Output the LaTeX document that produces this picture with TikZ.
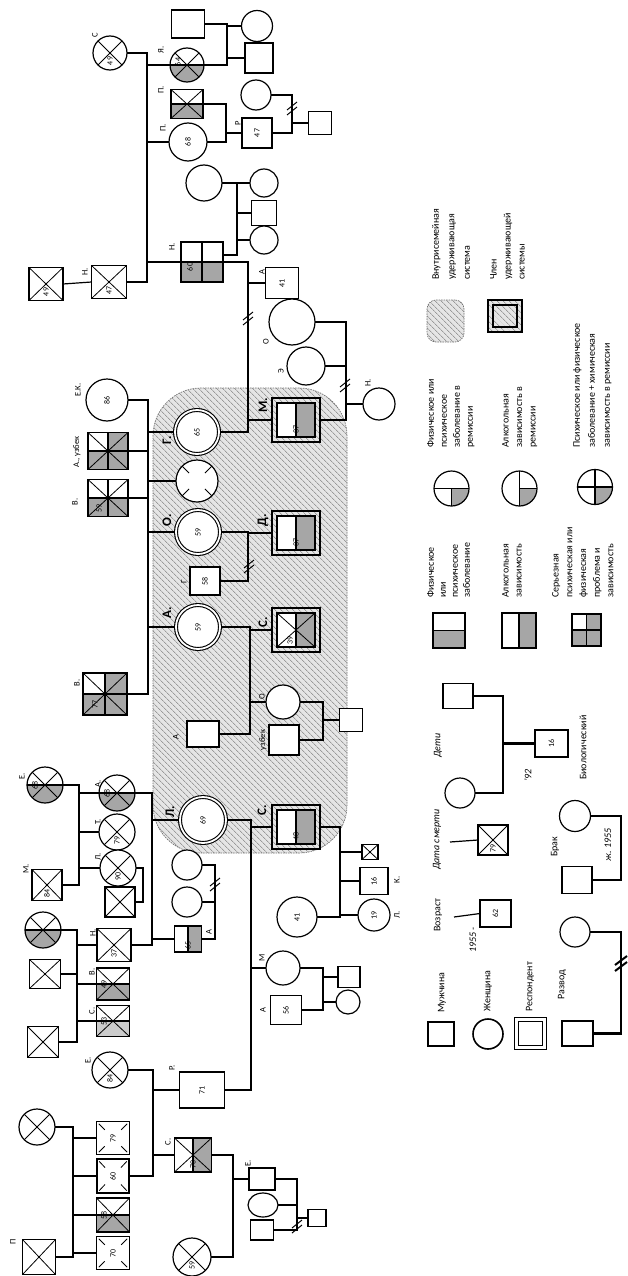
\documentclass[tikz,border=0pt]{standalone}
\usepackage{fontspec}
\setmainfont{Carlito}
\usetikzlibrary{calc,patterns.meta,shapes.geometric}
\pgfdeclarelayer{encl}
\pgfdeclarelayer{lines}
\pgfsetlayers{encl,lines,main}
\definecolor{gry}{gray}{0.65}
\definecolor{gryl}{gray}{0.80}
\definecolor{hbg}{gray}{0.90}
\definecolor{hln}{gray}{0.45}
\newcommand\Xc{\draw[xl] (path picture bounding box.south west) -- (path picture bounding box.north east) (path picture bounding box.north west) -- (path picture bounding box.south east);}
\newcommand\Hl{\draw[dl] (path picture bounding box.west) -- (path picture bounding box.east);}
\newcommand\Vl{\draw[dl] (path picture bounding box.north) -- (path picture bounding box.south);}
\newcommand\Bg{\fill[gry] (path picture bounding box.west) rectangle (path picture bounding box.south east);\Hl}
\newcommand\Bgl{\fill[gryl] (path picture bounding box.west) rectangle (path picture bounding box.south east);\Hl}
\newcommand\Rg{\fill[gry] (path picture bounding box.north) rectangle (path picture bounding box.south east);\Vl}
\newcommand\TRg{\fill[gry] (path picture bounding box.north) rectangle (path picture bounding box.east);}
\newcommand\BRq{\fill[gry] (path picture bounding box.center) rectangle (path picture bounding box.south east);}
\newcommand\Tk[4]{\draw[xl] ($(path picture bounding box.#1)!#3!(path picture bounding box.#2)$) -- ($(path picture bounding box.#1)!#4!(path picture bounding box.#2)$);}
\newcommand\Dxs{\Tk{south west}{north east}{.07}{.25}\Tk{north east}{south west}{.07}{.25}\Tk{north west}{south east}{.07}{.25}\Tk{south east}{north west}{.07}{.25}}
\newcommand\Dxc{\Tk{south west}{north east}{.15}{.31}\Tk{north east}{south west}{.15}{.31}\Tk{north west}{south east}{.15}{.31}\Tk{south east}{north west}{.15}{.31}}
\newcommand\RIco{\coordinate (ia) at ([shift={(5pt,-5pt)}]path picture bounding box.north west);
 \coordinate (ib) at ([shift={(-5pt,5pt)}]path picture bounding box.south east);
 \coordinate (ic) at ($(ia)!.5!(ib)$);}
\newcommand\RIn{\RIco\fill[white] (ia) rectangle (ib);
 \fill[gry] (ic |- ia) rectangle (ib);
 \draw[dl] (ic |- ia) -- (ic |- ib);}
\newcommand\RInX{\draw[xl] (ia) -- (ib) (ia -| ib) -- (ia |- ib);}
\newcommand\RInB{\draw[line width=1.5pt] (ia) rectangle (ib);}
\tikzset{
 xl/.style={line width=0.8pt},
 dl/.style={line width=1.1pt},
 ln/.style={line width=1.2pt},
 thk/.style={line width=2.6pt},
 base/.style={draw, line width=1.2pt, fill=white, inner sep=0pt, outer sep=0pt},
 sq/.style 2 args={base, rectangle, minimum width=#1, minimum height=#2},
 ci/.style={base, circle, minimum size=#1},
 el/.style 2 args={base, ellipse, minimum width=#1, minimum height=#2},
 pp/.style={path picture={#1}},
 resp/.style={double=white, double distance=1.8pt, line width=1.1pt},
 hatch/.style={preaction={fill=hbg}, pattern={Lines[angle=-45,distance=4pt,line width=0.6pt]}, pattern color=hln},
 rsq/.style={rectangle, draw, line width=1.8pt, hatch, minimum width=48, minimum height=44, inner sep=0pt},
 num/.style={rotate=90, font=\fontsize{8}{9}\selectfont, inner sep=0pt},
 nm/.style={label={[num]center:#1}},
 nmo/.style n args={3}{label={[num,xshift=#2,yshift=#3]center:#1}},
 lbl/.style={rotate=90, font=\fontsize{8.5}{10}\selectfont, inner sep=0pt},
 blbl/.style={rotate=90, font=\fontsize{13}{14}\selectfont\bfseries, inner sep=0pt},
 legb/.style={rotate=90, anchor=north west, align=left, inner sep=0pt, font=\fontsize{10}{#1}\selectfont},
 legs/.style={rotate=90, anchor=west, inner sep=0pt, font=\fontsize{10}{12}\selectfont},
 divm/.pic={\draw[line width=1pt] (-5,2)--(5,-6) (-5,7)--(5,-1);},
 divmt/.pic={\draw[line width=2pt] (-6,2)--(6,-7) (-6,8)--(6,-1);},
}
\begin{document}
\begin{tikzpicture}[x=1pt,y=-1pt]
\useasboundingbox (0,0) rectangle (628,1276);
\begin{pgfonlayer}{encl}
\fill[white] (0,0) rectangle (628,1276);
\node[hatch, draw=black!55, dash pattern=on 1.5pt off 1pt, line width=0.7pt, rounded corners=48pt, minimum width=194, minimum height=465, inner sep=0pt] (encl) at (250,620.5) {};
\end{pgfonlayer}

% bus coordinates
\foreach \bx in {73,77,79,143,147,148,152,153,215,226,227,233,237,248,250,251,292,297,323,340,346,503,621}{\coordinate (b\bx) at (\bx,0);}

% ---------- top family
\node[ci=34, pp={\Xc}, nmo={49}{-8pt}{0pt}] (nC) at (110,53) {};
\node[lbl] (lC) at (95,35) {С};
\node[ci=34, pp={\Bg\Xc}, nmo={64}{3pt}{9pt}] (nYa) at (187,65) {};
\node[lbl] (lYa) at (161,50) {Я.};
\node[sq={33}{28}] (sqTop) at (188,24) {};
\node[ci=31] (cTop) at (257,26) {};
\node[sq={28}{30}] (sqTop2) at (259,58) {};
\node[sq={32}{29}, pp={\Bg\Xc}] (nPsq) at (187,104) {};
\node[lbl] (lPsq) at (161,90) {П.};
\node[ci=38, nm=68] (nPc) at (188,142) {};
\node[lbl] (lPc) at (163,128) {П.};
\node[sq={30}{30}, nm=47] (sq47) at (257,133) {};
\node[lbl] (l47) at (238,123) {Р};
\node[ci=30] (c95) at (256,95) {};
\node[sq={23}{23}] (sqS) at (320,123) {};
\node[ci=36] (cW) at (204,183) {};
\node[ci=28] (cK1) at (264,183) {};
\node[sq={25}{25}] (sqK2) at (264,213) {};
\node[ci=28] (cK3) at (264,240) {};
\node[sq={42}{40}, pp={\Bg\Vl}, nmo={60}{-5pt}{12pt}] (N60) at (202,262) {};
\node[lbl] (lN60) at (172,247) {Н.};
\node[sq={33}{31}, nm=41] (sq41) at (282,283) {};
\node[lbl] (l41) at (262,272) {А};
\node[sq={34}{33}, pp={\Xc}, nmo={49}{-8pt}{0pt}] (sqN49) at (46,284) {};
\node[sq={35}{33}, pp={\Xc}, nmo={47}{-8pt}{0pt}] (sqN40) at (109,282) {};
\node[lbl] (lN40) at (85,272) {Н.};
\node[ci=46] (cO) at (292,322) {};
\node[lbl] (lO) at (266,342) {О};
\node[ci=38] (cEh) at (306,366) {};
\node[lbl] (lEh) at (281,371) {Э};
\node[ci=32] (cN) at (379,404) {};
\node[lbl] (lN) at (368,383) {Н.};

% ---------- enclosure members
\node[ci=44, resp, nm=65] (G65) at (197,432) {};
\node[blbl] (lG) at (167,440) {Г.};
\node[ci=42, pp={\Dxc}] (cQ) at (197,481) {};
\node[ci=44, resp, nm=59] (O59) at (198,532) {};
\node[blbl] (lO59) at (167,520) {О.};
\node[sq={30}{28}, nm=58] (sq58) at (205,581) {};
\node[lbl] (l58) at (184,582) {Г};
\node[rsq, pp={\RIn\RInB}, nmo={37}{-9pt}{0pt}] (M37) at (296,420) {};
\node[blbl] (lM37) at (263,405) {М.};
\node[rsq, pp={\RIn\RInB}, nmo={37}{-9pt}{0pt}] (D37) at (296,533) {};
\node[blbl] (lD) at (263,520) {Д.};
\node[ci=44, resp, nm=59] (A59) at (198,627) {};
\node[blbl] (lA59) at (167,613) {А.};
\node[rsq, pp={\RIn\RInX\RInB}, nmo={39}{-10pt}{6pt}] (C30) at (296,630) {};
\node[blbl] (lC30) at (263,622) {С.};
\node[sq={32}{26}] (sqA) at (203,734) {};
\node[lbl] (lsqA) at (176,737) {А};
\node[ci=34] (cO2) at (283,702) {};
\node[lbl] (lO2) at (262,697) {О};
\node[sq={30}{30}] (sqUz) at (284,740) {};
\node[lbl] (lUz) at (263,740) {узбек};
\node[sq={23}{23}] (sqSm) at (351,720) {};

% ---------- parents of enclosure
\node[ci=42, nm=86] (cEK) at (107,400) {};
\node[lbl] (lEK) at (78,390) {Е.К.};
\node[sq={40}{37}, pp={\TRg\Bg\Vl\Xc}] (sqAuz) at (108,451) {};
\node[lbl] (lAuz) at (77,452) {А., узбек};
\node[sq={40}{37}, pp={\Bg\Vl\Xc}, nmo={59}{-10pt}{9pt}] (sqV50) at (108,498) {};
\node[lbl] (lV50) at (75,502) {В.};
\node[sq={44}{42}, pp={\TRg\Bg\Vl\Xc}, nmo={77}{-10pt}{10pt}] (sqV77) at (105,694) {};
\node[lbl] (lV77) at (77,683) {В.};

% ---------- Л. family
\node[ci=46, resp, nm=69] (L69) at (203,820) {};
\node[blbl] (lL) at (170,812) {Л.};
\node[rsq, pp={\RIn\RInB}, nmo={48}{-9pt}{0pt}] (C48) at (296,827) {};
\node[blbl] (lC48) at (262,810) {С.};
\node[ci=36, pp={\Bg\Xc}, nmo={68}{0pt}{10pt}] (cA68) at (117,793) {};
\node[lbl] (lA68) at (98,784) {А.};
\node[ci=36, pp={\Xc}, nmo={79}{-8pt}{0pt}] (cX2) at (117,832) {};
\node[lbl] (lX2) at (98,822) {Т.};
\node[ci=36, pp={\Xc}, nmo={90}{-8pt}{0pt}] (cX90) at (118,868) {};
\node[lbl] (lX90) at (98,857) {Л.};
\node[sq={30}{30}, pp={\Xc}] (sqX1) at (120,902) {};
\node[ci=36, pp={\Bg\Xc}, nmo={68}{0pt}{10pt}] (cE1) at (45,785) {};
\node[lbl] (lE1) at (22,776) {Е.};
\node[sq={30}{31}, pp={\Xc}, nmo={84}{-8pt}{0pt}] (sqM) at (47,885) {};
\node[lbl] (lM) at (26,869) {М.};
\node[ci=30] (cL1) at (187,865) {};
\node[ci=30] (cL2) at (187,902) {};
\node[sq={27}{26}, pp={\Rg}, nmo={65}{-6pt}{0pt}] (sq65) at (188,939) {};
\node[lbl] (l65) at (209,932) {А};
\node[sq={34}{33}, pp={\Xc}, nmo={37}{-8pt}{0pt}] (sq37) at (114,945) {};
\node[lbl] (l37) at (93,933) {Н.};
\node[ci=36, pp={\Bg\Xc}] (cBot) at (43,930) {};
\node[sq={31}{29}, pp={\Xc}] (sqB1) at (45,974) {};
\node[sq={33}{32}, pp={\Bg\Xc}, nmo={49}{0pt}{9pt}] (sqB2) at (113,984) {};
\node[lbl] (lB2) at (92,972) {В.};
\node[sq={33}{31}, pp={\Bgl\Xc}, nmo={53}{0pt}{9pt}] (sqB3) at (113,1021) {};
\node[lbl] (lB3) at (92,1011) {С.};
\node[sq={31}{31}, pp={\Xc}] (sqB4) at (43,1042) {};
\node[ci=40, nm=41] (c41) at (297,917) {};
\node[sq={16}{15}, pp={\Xc}] (sqTiny) at (370,852) {};
\node[sq={28}{27}, nm=16] (sq16) at (374,881) {};
\node[lbl] (l16) at (397,880) {К.};
\node[ci=32, nm=19] (c19) at (374,915) {};
\node[lbl] (l19) at (397,915) {Л.};
\node[ci=34] (cM) at (283,968) {};
\node[lbl] (lcM) at (262,958) {М};
\node[sq={31}{29}, nm=56] (sq56) at (286,1010) {};
\node[lbl] (l56) at (263,1010) {А};
\node[sq={22}{21}] (sqMc) at (349,977) {};
\node[ci=24] (cMc) at (348,1002) {};
\node[sq={45}{36}, nm=71] (sq71) at (202,1090) {};
\node[lbl] (l71) at (172,1068) {Р.};
\node[ci=36, pp={\Xc}, nmo={84}{-8pt}{0pt}] (cE84) at (110,1070) {};
\node[lbl] (lE84) at (88,1060) {Е.};
\node[sq={37}{34}, pp={\Rg\Xc}, nmo={70}{-9pt}{0pt}] (sq70r) at (193,1155) {};
\node[lbl] (l70r) at (168,1142) {С.};
\node[ci=38, pp={\Xc}, nmo={59}{-8pt}{0pt}] (c59) at (192,1257) {};
\node[sq={26}{22}] (sqE) at (262,1179) {};
\node[lbl] (lsqE) at (248,1163) {Е.};
\node[el={30}{24}] (cEc) at (263,1205) {};
\node[sq={23}{20}] (sqEc) at (262,1230) {};
\node[sq={18}{17}] (sqSm2) at (317,1218) {};
\node[ci=36, pp={\Xc}] (cTL) at (37,1127) {};
\node[sq={33}{35}, pp={\Xc}] (sqP) at (39,1257) {};
\node[lbl] (lP) at (13,1242) {П};
\node[sq={33}{33}, pp={\Dxs}, nm=79] (sq79) at (113,1138) {};
\node[sq={32}{34}, pp={\Dxs}, nm=60] (sq60) at (113,1176) {};
\node[sq={33}{34}, pp={\Bg\Xc}, nmo={58}{0pt}{9pt}] (sq3) at (113,1215) {};
\node[sq={33}{33}, pp={\Dxs}, nm=70] (sq70d) at (113,1253) {};

% ---------- legend
\node[hatch, draw=black!55, dash pattern=on 1.5pt off 1pt, line width=0.7pt, rounded corners=9pt, minimum width=37, minimum height=42, inner sep=0pt] (lgEncl) at (445.5,321) {};
\node[rectangle, draw, line width=1.8pt, hatch, minimum width=34, minimum height=32, inner sep=0pt, pp={\RIco\RInB}] (lgMem) at (505,316) {};
\node[legb=15.5] (tEncl) at (432,280) {Внутрисемейная\\удерживающая\\система};
\node[legb=14] (tMem) at (490,280) {Член\\удерживающей\\системы};
\node[ci=35, pp={\BRq\Hl\draw[dl] (path picture bounding box.center) -- (path picture bounding box.south);}] (lc1) at (451.5,488.5) {};
\node[ci=35, pp={\BRq\Vl\draw[dl] (path picture bounding box.center) -- (path picture bounding box.east);}] (lc2) at (519.5,488.5) {};
\node[ci=35, pp={\BRq\Hl\Vl}] (lc3) at (595,487) {};
\node[legb=13] (tL1) at (427,448) {Физическое или\\психическое\\заболевание в\\ремиссии};
\node[legb=13.5] (tL2) at (502,448) {Алкогольная\\зависимость в\\ремиссии};
\node[legb=15] (tL3) at (573,448) {Психическое или физическое\\заболевание + химическая\\зависимость в ремиссии};
\node[sq={32}{35}, pp={\Bg}] (ls1) at (449,630.5) {};
\node[sq={34}{35}, pp={\Rg}] (ls2) at (519,630.5) {};
\node[sq={29}{32}, pp={\TRg\Bg\Vl}] (ls3) at (586.5,630) {};
\node[legb=12] (tS1) at (427,598) {Физическое\\или\\психическое\\заболевание};
\node[legb=13] (tS2) at (502,598) {Алкогольная\\зависимость};
\node[legb=13.7] (tS3) at (552,598) {Серьезная\\психическая или\\физическая\\проблема и\\зависимость};

\node[sq={30}{25}] (sqD) at (458,696) {};
\node[ci=30] (cD) at (460,793) {};
\node[sq={33}{27}, nm=16] (sq16L) at (551.5,743.5) {};
\node[legs, font=\fontsize{10}{12}\selectfont\itshape] (tDeti) at (438,758) {Дети};
\node[legs, font=\fontsize{10}{12}\selectfont\itshape] (t92) at (528,782) {'92};
\node[legs] (tBio) at (583,780) {Биологический};
\node[sq={30}{30}, pp={\Xc}, nmo={79}{-8pt}{0pt}] (sqDeath) at (493,840) {};
\coordinate (dsL) at (450,842);
\node[legs, font=\fontsize{10}{12}\selectfont\itshape] (tDs) at (437,870) {Дата смерти};
\node[sq={31}{27}, nm=62] (sq62) at (495.5,913.5) {};
\coordinate (vzL) at (454,917);
\node[legs] (tVoz) at (438,932) {Возраст};
\node[legs, font=\fontsize{10}{12}\selectfont\itshape] (t1955) at (473,953) {1955 -};
\node[ci=31] (cBr) at (575,816) {};
\node[sq={30}{27}] (sqBr) at (577,880) {};
\node[legs] (tBrak) at (555,857) {Брак};
\node[legs, font=\fontsize{10}{12}\selectfont\itshape] (tZh) at (608,862) {ж. 1955};
\node[ci=30] (cRz) at (575,932) {};
\node[sq={26}{24}, line width=1.6pt] (lgM) at (441,1034) {};
\node[ci=30, line width=1.6pt] (lgF) at (488,1034) {};
\node[sq={28}{28}, resp, line width=1.4pt, double distance=2.4pt] (lgR) at (530.5,1033.5) {};
\node[sq={31}{25}, line width=1.6pt] (sqRz) at (577.5,1033.5) {};
\node[legs] (tMuz) at (442,1013) {Мужчина};
\node[legs] (tZhen) at (488,1012) {Женщина};
\node[legs] (tResp) at (530,1012) {Респондент};
\node[legs] (tRazv) at (562,1000) {Развод};

% ---------- connectors
\begin{pgfonlayer}{lines}
\draw[ln] (nC.east) -| (b147 |- sqN40.east) -- (sqN40.east);
\foreach \n in {nYa,nPc,N60}{\draw[ln] (\n.west) -- (\n.west -| b147);}
\draw[ln] (sqN49.east) -- (sqN40.west);
\draw[ln] (sqTop.east) -| (b227 |- nYa.east) -- (nYa.east);
\foreach \n in {cTop,sqTop2}{\draw[ln] (\n.west) -- (\n.west -| b227);}
\draw[ln] (nPsq.east) -| (b226 |- nPc.east) -- (nPc.east);
\draw[ln] (sq47.west) -- (sq47.west -| b226);
\draw[ln] (c95.east) -| (b292 |- sq47.east) -- (sq47.east);
\draw[ln] (sqS.west) -- (sqS.west -| b292);
\pic at (292,108) {divm};
\coordinate (N60a) at ([yshift=7pt]N60.east);
\draw[ln] (cW.east) -| (b237 |- N60a) -- (N60a);
\foreach \n in {cK1,sqK2,cK3}{\draw[ln] (\n.west) -- (\n.west -| b237);}
\draw[ln] (N60.east) -| (b248 |- G65.east) -- (G65.east);
\foreach \n in {sq41,M37}{\draw[ln] (\n.west) -- (\n.west -| b248);}
\pic at (248,318) {divm};
\draw[ln] (cO.east) -| (b346 |- M37.east) -- (M37.east);
\draw[ln] (cEh.east) -- (cEh.east -| b346);
\draw[ln] (cN.west) -- (cN.west -| b346);
\pic at (345,385) {divm};
\draw[ln] (cEK.east) -| (b148 |- sqV77.east) -- (sqV77.east);
\foreach \n in {sqAuz,sqV50}{\draw[ln] (\n.east) -- (\n.east -| b148);}
\foreach \n in {G65,cQ,O59,A59}{\draw[ln] (\n.west) -- (\n.west -| b148);}
\draw[ln] (O59.east) -| (b248 |- sq58.east) -- (sq58.east);
\draw[ln] (D37.west) -- (D37.west -| b248);
\pic at (249,566) {divm};
\draw[ln] (A59.east) -| (b250 |- sqA.east) -- (sqA.east);
\foreach \n in {C30,cO2}{\draw[ln] (\n.west) -- (\n.west -| b250);}
\draw[ln] (cO2.east) -| (b323 |- sqUz.east) -- (sqUz.east);
\draw[ln] (sqSm.west) -- (sqSm.west -| b323);
\draw[ln] (cE1.east) -| (b79 |- sqM.east) -- (sqM.east);
\foreach \n in {cA68,cX2,cX90}{\draw[ln] (\n.west) -- (\n.west -| b79);}
\draw[ln] (cX90.east) -| (b143 |- sqX1.east) -- (sqX1.east);
\draw[ln] (cA68.east) -| (b152 |- sq37.east) -- (sq37.east);
\foreach \n in {L69,sq65}{\draw[ln] (\n.west) -- (\n.west -| b152);}
\draw[ln] (cL1.east) -| (b215 |- sq65.east) -- (sq65.east);
\draw[ln] (cL2.east) -- (cL2.east -| b215);
\pic at (215,884) {divm};
\draw[ln] (cBot.east) -| (b77 |- sqB4.east) -- (sqB4.east);
\draw[ln] (sqB1.east) -- (sqB1.east -| b77);
\foreach \n in {sq37,sqB2,sqB3}{\draw[ln] (\n.west) -- (\n.west -| b77);}
\draw[ln] (L69.east) -| (b251 |- sq71.east) -- (sq71.east);
\foreach \n in {C48,cM}{\draw[ln] (\n.west) -- (\n.west -| b251);}
\draw[ln] (C48.east) -| (b340 |- c41.east) -- (c41.east);
\foreach \n in {sqTiny,sq16,c19}{\draw[ln] (\n.west) -- (\n.west -| b340);}
\draw[ln] (cM.east) -| (b323 |- sq56.east) -- (sq56.east);
\foreach \n in {sqMc,cMc}{\draw[ln] (\n.west) -- (\n.west -| b323);}
\draw[ln] (cE84.east) -| (b153 |- sq60.east) -- (sq60.east);
\foreach \n in {sq71,sq70r}{\draw[ln] (\n.west) -- (\n.west -| b153);}
\draw[ln] (sq70r.east) -| (b233 |- c59.east) -- (c59.east);
\draw[ln] (sqE.west) -- (sqE.west -| b233);
\draw[ln] (sqE.east) -| (b297 |- sqEc.east) -- (sqEc.east);
\draw[ln] (cEc.east) -- (cEc.east -| b297);
\draw[ln] (sqSm2.west) -- (sqSm2.west -| b297);
\pic at (297,1226) {divm};
\draw[ln] (cTL.east) -| (b73 |- sqP.east) -- (sqP.east);
\foreach \n in {sq79,sq60,sq3,sq70d}{\draw[ln] (\n.west) -- (\n.west -| b73);}
% legend connectors
\draw[thk] (sqD.east) -| (b503 |- cD.east) -- (cD.east);
\draw[thk] (sq16L.west) -- (sq16L.west -| b503);
\draw[ln] (dsL) -- (sqDeath.west);
\draw[ln] (vzL) -- (sq62.west);
\draw[thk] (cBr.east) -| (b621 |- sqBr.east) -- (sqBr.east);
\draw[thk] (cRz.east) -| (b621 |- sqRz.east) -- (sqRz.east);
\pic at (621,963) {divmt};
\end{pgfonlayer}
\end{tikzpicture}
\end{document}
